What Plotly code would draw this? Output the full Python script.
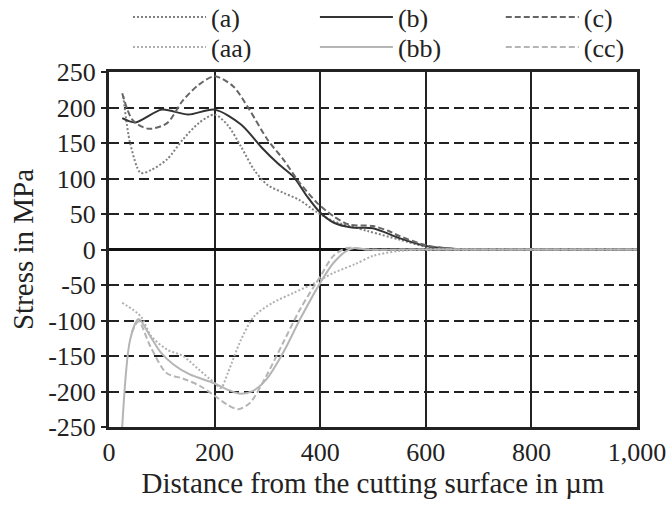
import plotly.graph_objects as go

# ---- data ----
a_x = [27, 40, 60, 80, 110, 140, 170, 200, 225, 250, 275, 300, 330, 360, 395, 425, 490, 550, 600, 650, 700, 800, 1000]
a_y = [216, 150, 108, 112, 127, 155, 178, 190, 175, 145, 112, 91, 80, 70, 52, 40, 26, 14, 4, 1, 0, 0, 0]

b_x = [25, 50, 100, 150, 200, 250, 290, 320, 350, 375, 400, 425, 460, 500, 550, 600, 650, 700, 800, 1000]
b_y = [185, 179, 197, 190, 197, 176, 143, 121, 102, 75, 52, 38, 31, 30, 16, 5, 1, 0, 0, 0]

c_x = [25, 45, 75, 110, 140, 170, 200, 235, 265, 300, 330, 360, 395, 425, 455, 500, 530, 550, 600, 650, 700, 800, 1000]
c_y = [220, 182, 170, 178, 210, 232, 244, 230, 198, 155, 127, 95, 65, 47, 35, 33, 26, 19, 6, 1, 0, 0, 0]

aa_x = [25, 60, 80, 110, 140, 170, 200, 212, 225, 250, 275, 310, 350, 390, 425, 465, 500, 550, 600, 700, 1000]
aa_y = [-75, -94, -122, -141, -150, -169, -188, -195, -174, -127, -94, -75, -61, -47, -33, -21, -9, -2, 0, 0, 0]

bb_x = [25, 40, 56, 78, 98, 122, 153, 198, 223, 248, 273, 298, 330, 362, 400, 425, 450, 465, 490, 600, 1000]
bb_y = [-250, -127, -98, -122, -145, -162, -176, -188, -197, -203, -199, -183, -145, -98, -47, -19, -2, 2, 0, 0, 0]

cc_x = [43, 56, 78, 109, 141, 172, 200, 223, 245, 267, 298, 330, 362, 400, 425, 450, 490, 600, 1000]
cc_y = [-117, -101, -136, -174, -182, -192, -206, -218, -225, -216, -178, -131, -84, -38, -9, 2, 0, 0, 0]

x_ticks = [0, 200, 400, 600, 800, 1000]
x_tick_labels = ["0", "200", "400", "600", "800", "1,000"]
y_ticks = [250, 200, 150, 100, 50, 0, -50, -100, -150, -200, -250]
y_tick_labels = ["250", "200", "150", "100", "50", "0", "-50", "-100", "-150", "-200", "-250"]

FONT = "Liberation Serif, Times New Roman, serif"
TXT = "#222222"

series = [
    ("(a)", a_x, a_y, "#808080", "2px,2px"),
    ("(b)", b_x, b_y, "#333333", "solid"),
    ("(c)", c_x, c_y, "#666666", "6px,3px"),
    ("(aa)", aa_x, aa_y, "#b0b0b0", "2px,2px"),
    ("(bb)", bb_x, bb_y, "#b5b5b5", "solid"),
    ("(cc)", cc_x, cc_y, "#b5b5b5", "6px,3px"),
]

# legend placement (one legend per entry, 3 columns x 2 rows)
leg_cols = [0.036, 0.390, 0.742, 0.036, 0.390, 0.742]
leg_rows = [1.155, 1.155, 1.155, 1.070, 1.070, 1.070]
leg_ids = ["legend", "legend2", "legend3", "legend4", "legend5", "legend6"]

fig = go.Figure()
for (name, xs, ys, col, dash), lid in zip(series, leg_ids):
    fig.add_trace(go.Scatter(
        x=xs, y=ys, name=name, mode="lines", legend=lid,
        line=dict(color=col, width=2, dash=dash, shape="spline", smoothing=0.8),
    ))

layout_legends = {}
for lid, lx, ly in zip(leg_ids, leg_cols, leg_rows):
    layout_legends[lid] = dict(
        x=lx, y=ly, xanchor="left", yanchor="middle", orientation="v",
        itemwidth=73, bgcolor="rgba(0,0,0,0)", itemclick=False,
        font=dict(family=FONT, size=26, color=TXT),
    )

fig.update_layout(
    width=669, height=505,
    margin=dict(l=109, r=32, t=72, b=78, autoexpand=False),
    paper_bgcolor="white", plot_bgcolor="white",
    font=dict(family=FONT, size=26, color=TXT),
    showlegend=True,
    xaxis=dict(
        range=[0, 1000], tickvals=x_ticks, ticktext=x_tick_labels,
        showgrid=True, gridcolor="#222222", gridwidth=2,
        showline=True, linecolor="#222222", linewidth=3, mirror=True,
        ticks="", zeroline=False,
        title=dict(text="Distance from the cutting surface in µm", standoff=6,
                   font=dict(family=FONT, size=29, color=TXT)),
        tickfont=dict(family=FONT, size=26, color=TXT),
    ),
    yaxis=dict(
        range=[-250, 250], tickvals=y_ticks, ticktext=y_tick_labels,
        showgrid=True, gridcolor="#222222", gridwidth=2, griddash="10px,5px",
        showline=True, linecolor="#222222", linewidth=3, mirror=True,
        ticks="outside", ticklen=5, tickwidth=2, tickcolor="#222222",
        zeroline=True, zerolinecolor="#111111", zerolinewidth=3,
        title=dict(text="Stress in MPa", standoff=6, font=dict(family=FONT, size=29, color=TXT)),
        tickfont=dict(family=FONT, size=26, color=TXT),
    ),
    **layout_legends,
)

fig.write_html("out.html", config={"displayModeBar": False},
               post_script="document.body.style.margin='0';")
